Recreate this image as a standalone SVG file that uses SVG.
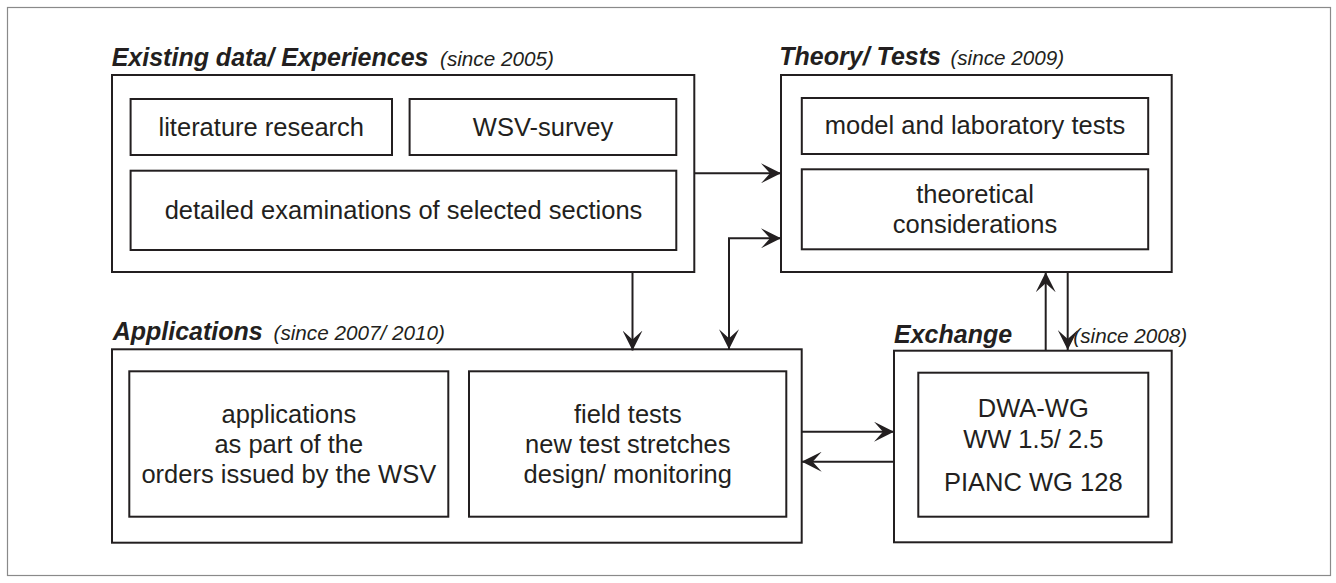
<svg xmlns="http://www.w3.org/2000/svg" width="1336" height="583" viewBox="0 0 1336 583">
<style>
.frame{fill:none;stroke:#8a8a8a;stroke-width:1.2}
.box{fill:none;stroke:#231f20;stroke-width:2}
.ln{fill:none;stroke:#231f20;stroke-width:2}
.t{font-family:"Liberation Sans",Arial,sans-serif;font-size:25.5px;fill:#231f20;text-anchor:middle}
.h{font-family:"Liberation Sans",Arial,sans-serif;font-size:25px;font-weight:bold;font-style:italic;fill:#231f20}
.s{font-family:"Liberation Sans",Arial,sans-serif;font-size:20.7px;font-style:italic;fill:#231f20}
</style>
<defs>
<marker id="ah" viewBox="0 0 20 20" refX="20" refY="10" markerWidth="20" markerHeight="20" markerUnits="userSpaceOnUse" orient="auto-start-reverse">
<path d="M20,10 L0,0 L9,10 L0,20 Z" fill="#231f20"/>
</marker>
</defs>
<rect class="frame" x="7.5" y="7.5" width="1323" height="568"/>

<g id="existing">
<text class="h" x="111.7" y="66">Existing data/ Experiences</text>
<text class="s" x="440" y="66">(since 2005)</text>
<rect class="box" x="112" y="75" width="582.3" height="197"/>
<g id="literature">
<rect class="box" x="130.6" y="99" width="261.4" height="56"/>
<text class="t" x="261.3" y="136">literature research</text>
</g>
<g id="wsv-survey">
<rect class="box" x="409.6" y="99" width="266.7" height="56"/>
<text class="t" x="543" y="136">WSV-survey</text>
</g>
<g id="detailed">
<rect class="box" x="130.6" y="170.7" width="545.7" height="79.3"/>
<text class="t" x="403.5" y="219.3">detailed examinations of selected sections</text>
</g>
</g>

<g id="theory">
<text class="h" x="779.3" y="65">Theory/ Tests</text>
<text class="s" x="950.4" y="65">(since 2009)</text>
<rect class="box" x="781" y="75" width="390.7" height="197"/>
<g id="model">
<rect class="box" x="801.8" y="98" width="346.4" height="56"/>
<text class="t" x="975" y="134.3">model and laboratory tests</text>
</g>
<g id="theoretical">
<rect class="box" x="801.8" y="169.3" width="346.4" height="80"/>
<text class="t" x="975" y="203.3">theoretical</text>
<text class="t" x="975" y="232.7">considerations</text>
</g>
</g>

<g id="applications">
<text class="h" x="112.7" y="340">Applications</text>
<text class="s" x="273.5" y="340">(since 2007/ 2010)</text>
<rect class="box" x="112" y="349.3" width="689.7" height="193.4"/>
<g id="apps-wsv">
<rect class="box" x="129.3" y="371.3" width="319" height="145.4"/>
<text class="t" x="288.8" y="423">applications</text>
<text class="t" x="288.8" y="453">as part of the</text>
<text class="t" x="288.8" y="483">orders issued by the WSV</text>
</g>
<g id="field-tests">
<rect class="box" x="469" y="371.3" width="317.3" height="145.4"/>
<text class="t" x="627.8" y="423">field tests</text>
<text class="t" x="627.8" y="453">new test stretches</text>
<text class="t" x="627.8" y="483">design/ monitoring</text>
</g>
</g>

<g id="exchange">
<text class="h" x="894" y="343.3">Exchange</text>
<text class="s" x="1073.3" y="343.3">(since 2008)</text>
<rect class="box" x="894" y="350.7" width="277.7" height="191.6"/>
<g id="groups">
<rect class="box" x="918.3" y="372.7" width="230" height="144"/>
<text class="t" x="1033.3" y="417.3">DWA-WG</text>
<text class="t" x="1033.3" y="447.7">WW 1.5/ 2.5</text>
<text class="t" x="1033.3" y="491">PIANC WG 128</text>
</g>
</g>

<g id="connectors">
<path class="ln" d="M694.3,173.3 H781" marker-end="url(#ah)"/>
<path class="ln" d="M729,349.3 V238.3 H781" marker-start="url(#ah)" marker-end="url(#ah)"/>
<path class="ln" d="M632.5,272 V350.5" marker-end="url(#ah)"/>
<path class="ln" d="M1045.7,350.7 V272.3" marker-end="url(#ah)"/>
<path class="ln" d="M1067.7,272.3 V350" marker-end="url(#ah)"/>
<path class="ln" d="M801.7,431.7 H894" marker-end="url(#ah)"/>
<path class="ln" d="M894,461.7 H801.7" marker-end="url(#ah)"/>
</g>
</svg>
